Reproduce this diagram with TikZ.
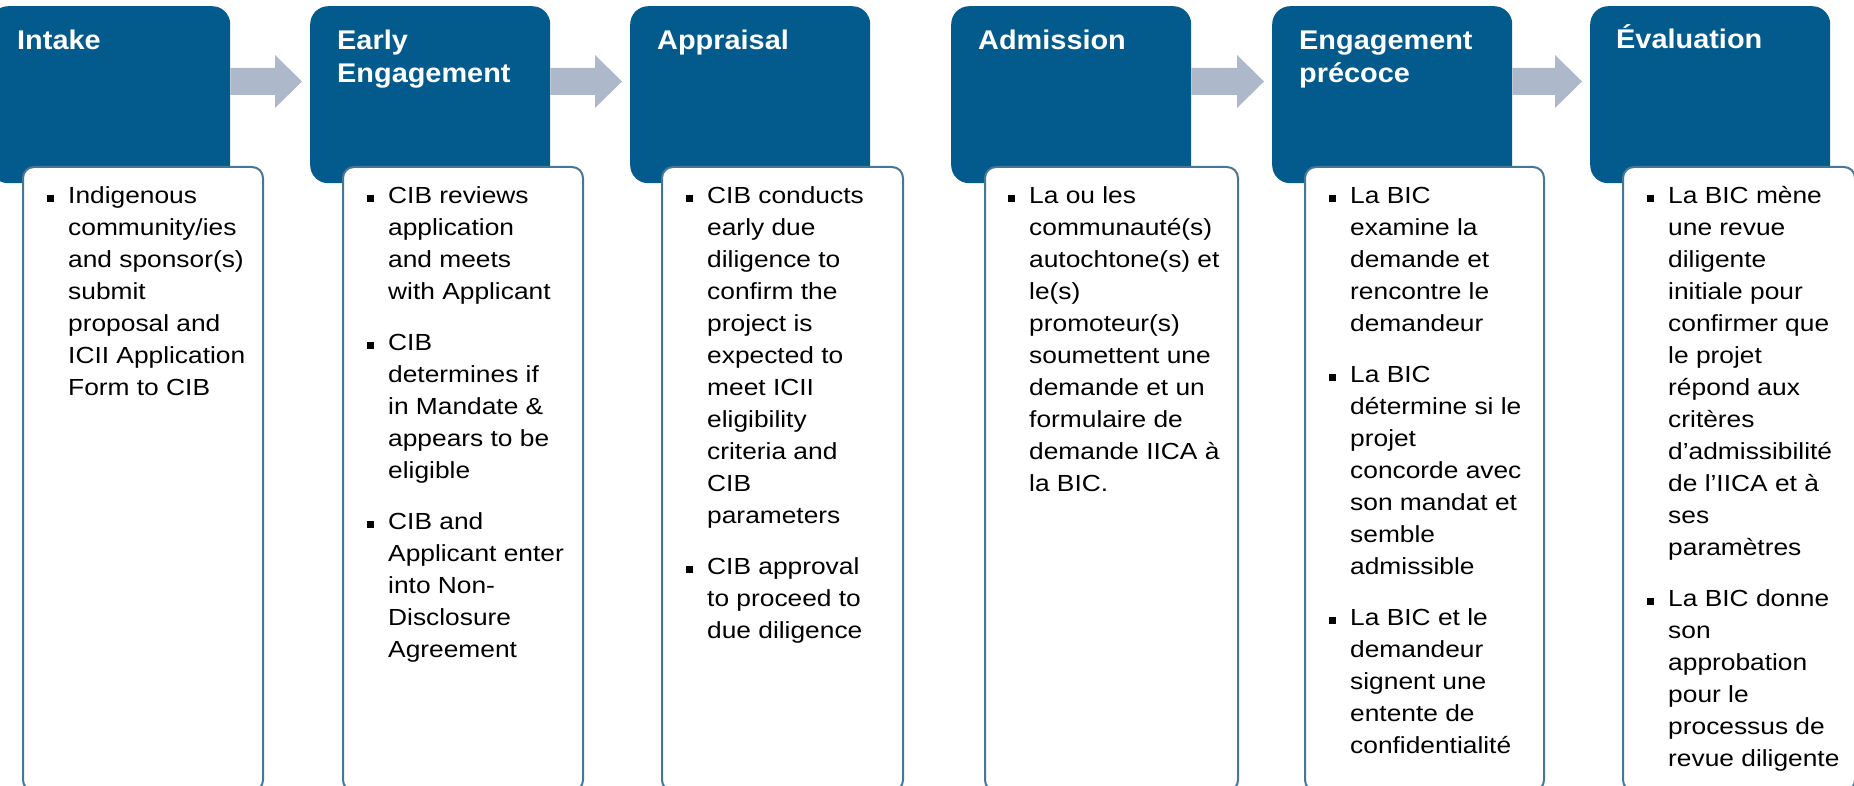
\documentclass[tikz,border=0pt]{standalone}
\usepackage{fontspec}
\setmainfont{Liberation Sans}
\newfontfamily\headfont[FakeStretch=1.07]{Liberation Sans}
\newfontfamily\bodyfont[FakeStretch=1.13]{Liberation Sans}
\usetikzlibrary{calc}
\definecolor{cibblue}{RGB}{2,91,140}
\definecolor{edgeblue}{RGB}{72,118,150}
\definecolor{arrowgray}{RGB}{173,185,202}
\newcommand{\bul}{\makebox[21pt][l]{\rule[2.3pt]{7pt}{7pt}}}
\newcommand{\flowarrow}[3]{%
  \coordinate (#3) at ($(#2.north west)+(-8,75.5)$);
  \fill[flow] ($(#1.north east)+(0,62)$) -- ($(#3)+(-27,-13.5)$) -- ($(#3)+(-27,-26.5)$) -- (#3)
    -- ($(#3)+(-27,26.5)$) -- ($(#3)+(-27,13.5)$) -- ($(#1.north east)+(0,89)$) -- cycle;}
\begin{document}
\begin{tikzpicture}[x=1pt,y=-1pt,
  headbox/.style={fill=cibblue, draw=none, rounded corners=18pt, minimum width=240pt, minimum height=177pt, anchor=north west, inner sep=0pt},
  bodybox/.style={fill=white, draw=edgeblue, line width=2pt, rounded corners=11pt, minimum height=624pt, anchor=north west, inner sep=0pt},
  headtext/.style={text=white, font=\headfont\fontsize{27pt}{33pt}\selectfont\bfseries, anchor=base west, inner sep=0pt},
  bodytext/.style={text=black, font=\bodyfont\fontsize{23.3pt}{32pt}\selectfont, anchor=base west, inner sep=0pt},
  flow/.style={fill=arrowgray, draw=none}]
\useasboundingbox (0,0) rectangle (1854,786);
% header boxes
\node[headbox] (b1) at (-10,6) {};
\node[headbox] (b2) at (310,6) {};
\node[headbox] (b3) at (630,6) {};
\node[headbox] (b4) at (951,6) {};
\node[headbox] (b5) at (1272,6) {};
\node[headbox] (b6) at (1590,6) {};
% arrows
\flowarrow{b1}{b2}{a12}
\flowarrow{b2}{b3}{a23}
\flowarrow{b4}{b5}{a45}
\flowarrow{b5}{b6}{a56}
% body boxes
\node[bodybox, minimum width=240pt] (w1) at (22,166) {};
\node[bodybox, minimum width=240pt] (w2) at (342,166) {};
\node[bodybox, minimum width=241pt] (w3) at (661,166) {};
\node[bodybox, minimum width=253pt] (w4) at (984,166) {};
\node[bodybox, minimum width=239pt] (w5) at (1304,166) {};
\node[bodybox, minimum width=232pt] (w6) at (1622,166) {};
% header texts
\node[headtext] (h1) at (17,50) {\begin{tabular}[t]{@{}l@{}}Intake\end{tabular}};
\node[headtext] (h2) at (337,50) {\begin{tabular}[t]{@{}l@{}}Early\\Engagement\end{tabular}};
\node[headtext] (h3) at (657,50) {\begin{tabular}[t]{@{}l@{}}Appraisal\end{tabular}};
\node[headtext] (h4) at (978,50) {\begin{tabular}[t]{@{}l@{}}Admission\end{tabular}};
\node[headtext] (h5) at (1299,50) {\begin{tabular}[t]{@{}l@{}}Engagement\\précoce\end{tabular}};
\node[headtext] (h6) at (1616,49) {\begin{tabular}[t]{@{}l@{}}Évaluation\end{tabular}};
% body texts
\node[bodytext] (t1) at (47,204) {\begin{tabular}[t]{@{}l@{}l@{}}
\bul & Indigenous\\ & community/ies\\ & and sponsor(s)\\ & submit\\ & proposal and\\ & ICII Application\\ & Form to CIB
\end{tabular}};
\node[bodytext] (t2) at (367,204) {\begin{tabular}[t]{@{}l@{}l@{}}
\bul & CIB reviews\\ & application\\ & and meets\\ & with Applicant\\[19pt]
\bul & CIB\\ & determines if\\ & in Mandate \&\\ & appears to be\\ & eligible\\[19pt]
\bul & CIB and\\ & Applicant enter\\ & into Non-\\ & Disclosure\\ & Agreement
\end{tabular}};
\node[bodytext] (t3) at (686,204) {\begin{tabular}[t]{@{}l@{}l@{}}
\bul & CIB conducts\\ & early due\\ & diligence to\\ & confirm the\\ & project is\\ & expected to\\ & meet ICII\\ & eligibility\\ & criteria and\\ & CIB\\ & parameters\\[19pt]
\bul & CIB approval\\ & to proceed to\\ & due diligence
\end{tabular}};
\node[bodytext] (t4) at (1008,204) {\begin{tabular}[t]{@{}l@{}l@{}}
\bul & La ou les\\ & communauté(s)\\ & autochtone(s) et\\ & le(s)\\ & promoteur(s)\\ & soumettent une\\ & demande et un\\ & formulaire de\\ & demande IICA à\\ & la BIC.
\end{tabular}};
\node[bodytext] (t5) at (1329,204) {\begin{tabular}[t]{@{}l@{}l@{}}
\bul & La BIC\\ & examine la\\ & demande et\\ & rencontre le\\ & demandeur\\[19pt]
\bul & La BIC\\ & détermine si le\\ & projet\\ & concorde avec\\ & son mandat et\\ & semble\\ & admissible\\[19pt]
\bul & La BIC et le\\ & demandeur\\ & signent une\\ & entente de\\ & confidentialité
\end{tabular}};
\node[bodytext] (t6) at (1647,204) {\begin{tabular}[t]{@{}l@{}l@{}}
\bul & La BIC mène\\ & une revue\\ & diligente\\ & initiale pour\\ & confirmer que\\ & le projet\\ & répond aux\\ & critères\\ & d’admissibilité\\ & de l’IICA et à\\ & ses\\ & paramètres\\[19pt]
\bul & La BIC donne\\ & son\\ & approbation\\ & pour le\\ & processus de\\ & revue diligente
\end{tabular}};
\end{tikzpicture}
\end{document}
